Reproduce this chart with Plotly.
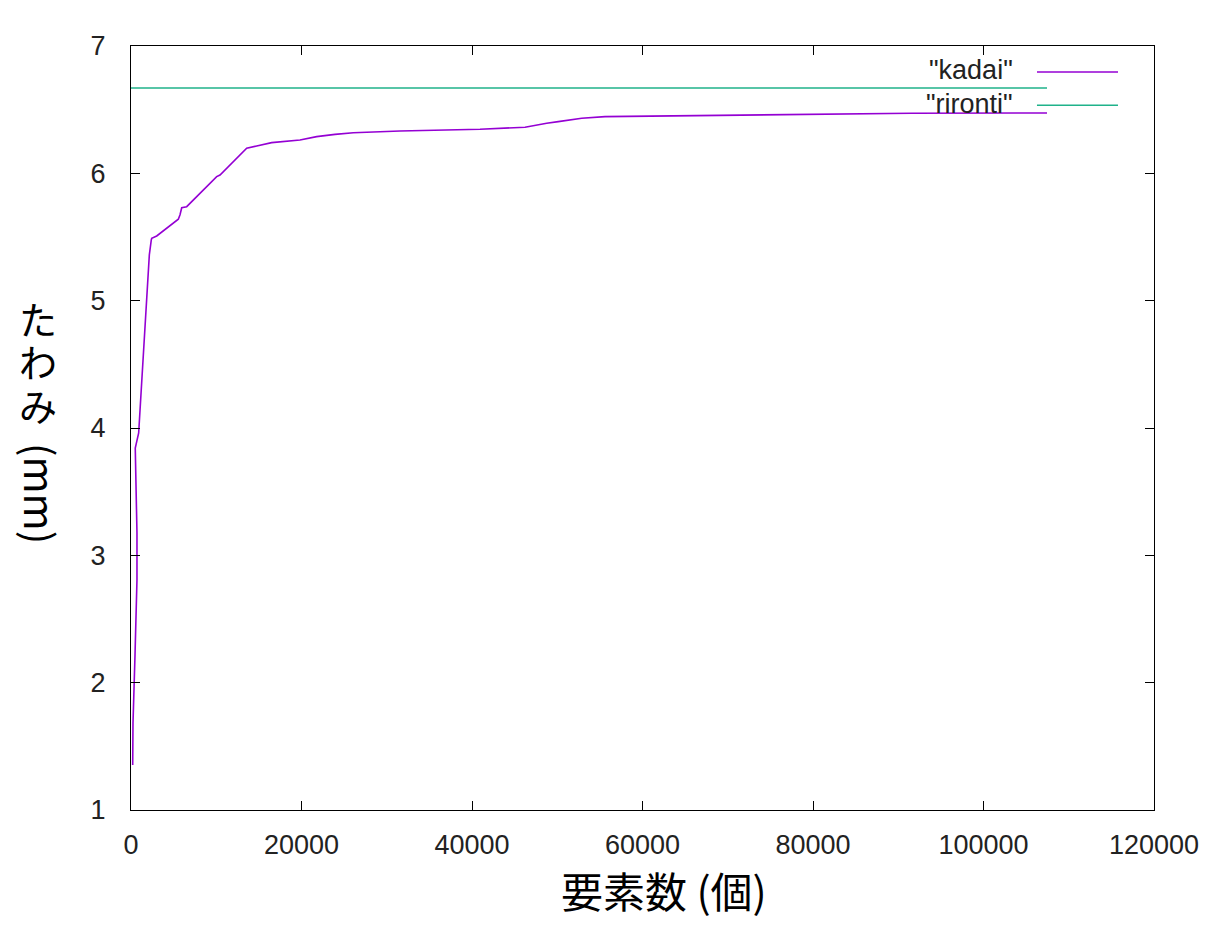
import plotly.graph_objects as go

# kadai: element count vs deflection (mm)
kadai_x = [200, 235, 470, 700, 700, 520, 500, 900, 1100, 1080, 1300, 1550, 1760, 1960, 2150, 2380,
           2430, 3015, 3790, 4960, 5550, 5750, 5950, 6530, 10050, 10440, 13570, 14745, 16500,
           19820, 21780, 23930, 26080, 31550, 40940, 46220, 47590, 48760, 50120, 51500, 52870,
           55600, 68500, 91580, 107450]
kadai_y = [1.353, 1.683, 2.217, 2.806, 3.175, 3.607, 3.843, 3.961, 4.181, 4.196, 4.432, 4.652,
           4.895, 5.123, 5.359, 5.477, 5.490, 5.508, 5.550, 5.608, 5.640, 5.675, 5.730, 5.738,
           5.974, 5.987, 6.197, 6.215, 6.241, 6.262, 6.288, 6.306, 6.319, 6.333, 6.346, 6.362,
           6.380, 6.393, 6.406, 6.420, 6.433, 6.445, 6.453, 6.472, 6.474]

# rironti: theoretical value
rironti_x = [0, 107450]
rironti_y = [6.670, 6.670]

x_ticks = [0, 20000, 40000, 60000, 80000, 100000, 120000]
y_ticks = [1, 2, 3, 4, 5, 6, 7]

PURPLE = "#9400d3"
GREEN = "#1fb28a"
FONT = "Liberation Sans, Arial, Noto Sans CJK JP, sans-serif"
CJK = "Noto Sans CJK JP"

fig = go.Figure()
fig.add_trace(go.Scatter(x=kadai_x, y=kadai_y, mode="lines", name='"kadai"',
                         line=dict(color=PURPLE, width=1.6)))
fig.add_trace(go.Scatter(x=rironti_x, y=rironti_y, mode="lines", name='"rironti"',
                         line=dict(color=GREEN, width=1.6)))

# gnuplot-style key: text then sample line on the right
legend_items = [('"kadai"', PURPLE, 0.966), ('"rironti"', GREEN, 0.9225)]
for label, color, py in legend_items:
    fig.add_annotation(x=0.864, y=py + 0.002, xref="paper", yref="paper", text=label,
                       showarrow=False, xanchor="right", yanchor="middle",
                       font=dict(family=FONT, size=27, color="#222222"))
    fig.add_shape(type="line", xref="paper", yref="paper", x0=0.8856, x1=0.9648,
                  y0=py, y1=py, line=dict(color=color, width=1.6))

# y axis title: upright Japanese characters stacked, then rotated (mm)
for ch, py in [("た", 0.644), ("わ", 0.588), ("み", 0.531)]:
    fig.add_annotation(x=-0.0905, y=py, xref="paper", yref="paper", text=ch,
                       showarrow=False, xanchor="center", yanchor="middle",
                       font=dict(family=CJK, size=38, color="black"))
fig.add_annotation(x=-0.088, y=0.4136, xref="paper", yref="paper",
                   text="(mm)", showarrow=False, textangle=90, xanchor="center", yanchor="middle",
                   font=dict(family=CJK, size=40, color="black"))

# x axis title
fig.add_annotation(x=0.521, y=-0.1047, xref="paper", yref="paper",
                   text="要素数 (個)", showarrow=False, xanchor="center", yanchor="middle",
                   font=dict(family=CJK, size=42, color="black"))

fig.update_layout(
    width=1212, height=942,
    margin=dict(l=123, r=66, t=38, b=140),
    paper_bgcolor="white", plot_bgcolor="white",
    showlegend=False,
    font=dict(family=FONT, size=27, color="#222222"),
)
fig.update_xaxes(range=[0, 120000], tickvals=x_ticks, ticktext=[str(v) for v in x_ticks],
                 showgrid=False, zeroline=False, showline=True, linecolor="black", linewidth=1,
                 mirror="ticks", ticks="inside", ticklen=9, tickcolor="black",
                 tickfont=dict(family=FONT, size=27), ticklabelstandoff=11)
fig.update_yaxes(range=[1, 7], tickvals=y_ticks, ticktext=[str(v) for v in y_ticks],
                 showgrid=False, zeroline=False, showline=True, linecolor="black", linewidth=1,
                 mirror="ticks", ticks="inside", ticklen=9, tickcolor="black",
                 tickfont=dict(family=FONT, size=27), ticklabelstandoff=19)

fig.write_html("out.html")
